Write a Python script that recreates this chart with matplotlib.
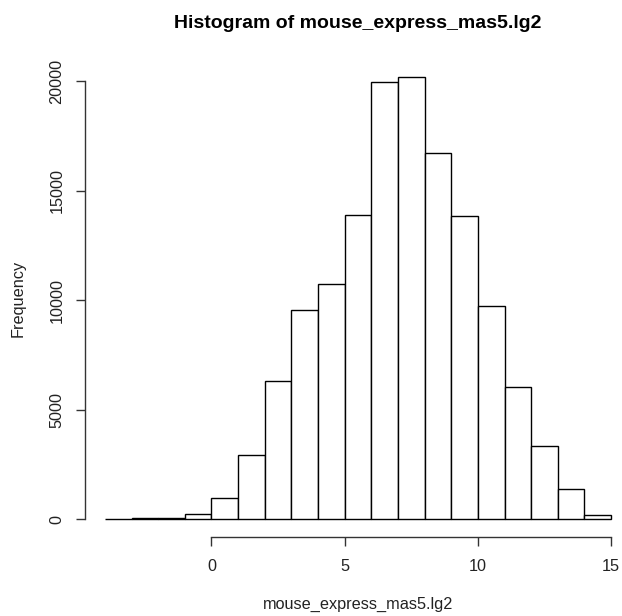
import numpy as np
from matplotlib import pyplot as plt

plt.rcParams['font.family'] = ['Liberation Sans', 'DejaVu Sans']

# bin edges (largura 1) e contagens
edges = list(range(-4, 16))
counts = [5, 40, 40, 240, 960, 2920, 6330, 9540, 10730, 13870,
          19950, 20200, 16730, 13830, 9740, 6040, 3360, 1400, 180]
xticks = [0, 5, 10, 15]
yticks = [0, 5000, 10000, 15000, 20000]

W, H = 622, 616
fig = plt.figure(figsize=(W/100, H/100), dpi=100)
# regiao do plot em pixels (estilo R)
left, right, top, bottom = 84.7, 631.3, 59, 537
ax = fig.add_axes([left/W, 1-bottom/H, (right-left)/W, (bottom-top)/H])

widths = np.diff(edges)
ax.bar(edges[:-1], counts, width=widths, align='edge',
       facecolor='white', edgecolor='black', linewidth=1.0)

ax.set_xlim(-4.76, 15.76)
ax.set_ylim(-808, 21008)

for s in ['top', 'right']:
    ax.spines[s].set_visible(False)
ax.spines['bottom'].set_bounds(0, 15)
ax.spines['left'].set_bounds(0, 20000)
for s in ['bottom', 'left']:
    ax.spines[s].set_color('#333333')
    ax.spines[s].set_linewidth(1.0)

ax.set_xticks(xticks)
ax.set_yticks(yticks)
ax.set_yticklabels([str(v) for v in yticks], rotation=90, va='center')
ax.tick_params(axis='both', direction='out', length=6.5, width=1.0,
               color='#333333', labelsize=11.7, labelcolor='#222222')
ax.tick_params(axis='x', pad=9)
ax.tick_params(axis='y', pad=8)

ax.set_title('Histogram of mouse_express_mas5.lg2', fontsize=14,
             fontweight='bold', pad=22)
ax.set_xlabel('mouse_express_mas5.lg2', fontsize=11.7, color='#222222', labelpad=17)
ax.set_ylabel('Frequency', fontsize=11.7, color='#222222', labelpad=17)

fig.savefig('out.png', dpi=100)
